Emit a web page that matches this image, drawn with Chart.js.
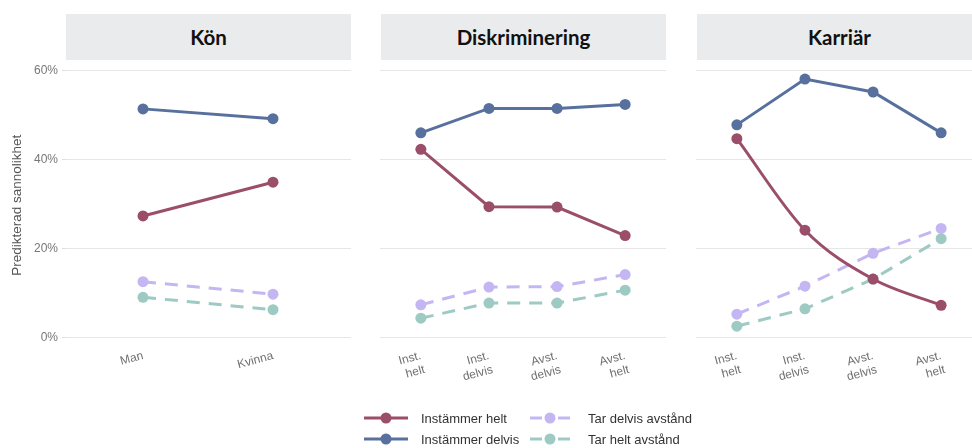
<!DOCTYPE html>
<html>
<head>
<meta charset="utf-8">
<script src="https://cdn.jsdelivr.net/npm/chart.js@4.4.1/dist/chart.umd.min.js"></script>
<style>
  body { margin: 0; width: 972px; height: 448px; overflow: hidden; background: #fff; position: relative;
         font-family: "Liberation Sans", Arial, sans-serif; }
  .strip { position: absolute; top: 14px; height: 46px; background: #eaebed; color: #111;
           font: 700 20.5px Lato, sans-serif; display: flex; align-items: center; justify-content: center; }
  canvas { position: absolute; top: 60px; }
  .item { position: absolute; height: 20px; display: flex; align-items: center; font-size: 13px; color: #333; }
</style>
</head>
<body>

<div class="strip" style="left:66px;width:285px">Kön</div>
<div class="strip" style="left:381px;width:285px">Diskriminering</div>
<div class="strip" style="left:697px;width:285px">Karriär</div>

<canvas id="kon" width="351" height="388" style="left:0px"></canvas>
<canvas id="disk" width="286" height="388" style="left:380px"></canvas>
<canvas id="karr" width="286" height="388" style="left:696px"></canvas>

<div id="legend"></div>

<script>
const seriesNames = ['Instämmer helt', 'Instämmer delvis', 'Tar delvis avstånd', 'Tar helt avstånd'];
const seriesColors = ['#9b4e6a', '#58709d', '#c4b6f2', '#9dcac2'];
const seriesDashed = [false, false, true, true];
const yTicks = [0, 20, 40, 60];

// Kön
const konLabels = ['Man', 'Kvinna'];
const konHelt = [27.3, 34.9];
const konDelvis = [51.4, 49.2];
const konTarDelvis = [12.5, 9.7];
const konTarHelt = [9.0, 6.2];

// Diskriminering
const diskLabels = [['Inst.', 'helt'], ['Inst.', 'delvis'], ['Avst.', 'delvis'], ['Avst.', 'helt']];
const diskHelt = [42.3, 29.4, 29.3, 22.9];
const diskDelvis = [46.0, 51.5, 51.5, 52.4];
const diskTarDelvis = [7.3, 11.3, 11.4, 14.1];
const diskTarHelt = [4.3, 7.7, 7.7, 10.6];

// Karriär
const karrLabels = [['Inst.', 'helt'], ['Inst.', 'delvis'], ['Avst.', 'delvis'], ['Avst.', 'helt']];
const karrHelt = [44.7, 24.1, 13.1, 7.2];
const karrDelvis = [47.8, 58.1, 55.2, 46.0];
const karrTarDelvis = [5.2, 11.5, 18.9, 24.5];
const karrTarHelt = [2.5, 6.4, 13.1, 22.2];

const tickFont = { family: '"Liberation Sans", Arial, sans-serif', size: 12 };

function makePanel(id, labels, series, showY, smoothFirst) {
  const datasets = series.map((vals, k) => ({
    label: seriesNames[k],
    data: vals.map((v, i) => ({ x: i + 1, y: v })),
    borderColor: seriesColors[k],
    backgroundColor: seriesColors[k],
    borderWidth: 3,
    borderDash: seriesDashed[k] ? [13, 9] : [],
    cubicInterpolationMode: (smoothFirst && k == 0) ? 'monotone' : 'default',
    pointRadius: 5.5,
    pointBorderWidth: 0,
    pointBackgroundColor: seriesColors[k]
  }));

  new Chart(document.getElementById(id), {
    type: 'line',
    data: { datasets: datasets },
    options: {
      responsive: false,
      animation: false,
      devicePixelRatio: 1,
      layout: { padding: 0, autoPadding: false },
      plugins: { legend: { display: false }, tooltip: { enabled: false } },
      scales: {
        x: {
          type: 'linear',
          min: 0.4,
          max: labels.length + 0.6,
          grid: { display: false, drawTicks: false },
          border: { display: false },
          afterBuildTicks: s => { s.ticks = labels.map((l, i) => ({ value: i + 1 })); },
          ticks: {
            callback: (v, i) => labels[i],
            minRotation: 15, maxRotation: 15, autoSkip: false,
            color: '#707070', font: tickFont, padding: -2
          },
          afterFit: s => { s.height = 97.4; s.paddingLeft = 0; s.paddingRight = 0; }
        },
        y: {
          min: -3,
          max: 62.4,
          afterBuildTicks: s => { s.ticks = yTicks.map(v => ({ value: v })); },
          grid: { color: '#e6e6e6', lineWidth: 1, drawTicks: showY, tickLength: 3, tickColor: '#dcdcdc' },
          border: { display: false },
          ticks: { display: showY, callback: v => v + '%', padding: 4, color: '#777', font: tickFont },
          title: {
            display: showY, text: 'Predikterad sannolikhet', color: '#555',
            font: { family: tickFont.family, size: 13.5 }, padding: { top: 9, bottom: 0 }
          },
          afterFit: s => { s.width = showY ? 65 : 0; s.paddingTop = 0; s.paddingBottom = 0; }
        }
      }
    }
  });
}

makePanel('kon', konLabels, [konHelt, konDelvis, konTarDelvis, konTarHelt], true, false);
makePanel('disk', diskLabels, [diskHelt, diskDelvis, diskTarDelvis, diskTarHelt], false, false);
makePanel('karr', karrLabels, [karrHelt, karrDelvis, karrTarDelvis, karrTarHelt], false, true);

// legend below the panels, two columns
const legendPos = [[364, 408], [364, 429], [530, 408], [530, 429]];
const legend = document.getElementById('legend');
seriesNames.forEach((name, k) => {
  const c = seriesColors[k];
  const w = seriesDashed[k] ? 40 : 44;
  const line = seriesDashed[k]
    ? `<line x1="0" y1="10" x2="12" y2="10" stroke="${c}" stroke-width="3"/><line x1="28" y1="10" x2="40" y2="10" stroke="${c}" stroke-width="3"/>`
    : `<line x1="0" y1="10" x2="44" y2="10" stroke="${c}" stroke-width="3"/>`;
  const el = document.createElement('div');
  el.className = 'item';
  el.style.left = legendPos[k][0] + 'px';
  el.style.top = legendPos[k][1] + 'px';
  el.innerHTML = `<svg width="${w}" height="20" style="margin-right:${seriesDashed[k] ? 18 : 13}px">${line}<circle cx="${w / 2}" cy="10" r="5.5" fill="${c}"/></svg>${name}`;
  legend.appendChild(el);
});
</script>
</body>
</html>
